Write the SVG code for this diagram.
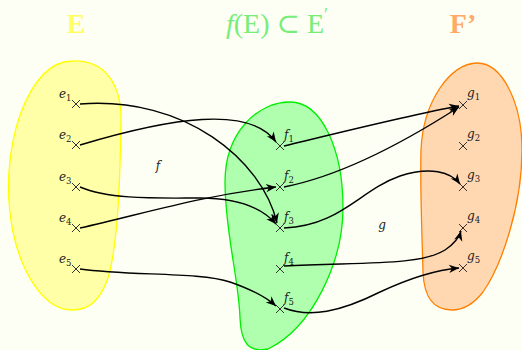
<svg xmlns="http://www.w3.org/2000/svg" width="522" height="350" viewBox="0 0 522 350">
<defs>
<marker id="arr" viewBox="-11 -5 12 10" markerWidth="12" markerHeight="10" refX="0" refY="0" orient="auto" markerUnits="userSpaceOnUse">
<path d="M0,0 L-10,-4.2 L-7,0 L-10,4.2 Z" fill="#000"/>
</marker>
<path id="x" d="M-4,-4 L4,4 M-4,4 L4,-4"/>
</defs>
<style>
.cross{stroke:#333;stroke-width:1;fill:none}
.lbl{font-family:"DejaVu Serif","Liberation Serif",serif;font-style:italic;font-size:12px;fill:#222}
.sub{font-family:"DejaVu Serif","Liberation Serif",serif;font-style:normal;font-size:8.5px;fill:#222}
.con{fill:none;stroke:#000;stroke-width:1.4;marker-end:url(#arr)}
.title{font-family:"Liberation Serif","DejaVu Serif",serif;font-size:28px;text-anchor:middle}
</style>
<rect width="522" height="350" fill="#FEFFF4"/>

<g id="setE">
<path d="M73,61 C103,60 122,82 121,122 C120,180 118,245 108,278 C100,300 90,310 72,310 C45,310 22,275 13,232 C5,192 8,150 20,115 C33,80 50,61 73,61 Z" fill="#FFFFA8" stroke="#FFFF00" stroke-width="1.3"/>
<text class="title" x="76" y="33" fill="#FFFF66" font-weight="bold">E</text>
</g>
<g id="setF">
<path d="M290,102 C322,102 343,150 343,208 C343,262 312,328 268,349 C248,353 241,342 240,318 C239,280 225,232 225,182 C225,132 258,102 290,102 Z" fill="#AFFFAF" stroke="#00EE00" stroke-width="1.3"/>
<text class="title" x="277" y="33" fill="#77EE77"><tspan font-style="italic">f</tspan>(E) ⊂ E<tspan font-size="18" dy="-12">′</tspan></text>
</g>
<g id="setG">
<path d="M477,63 C502,63 522,102 522,150 C522,205 502,265 483,292 C472,306 462,310 452,310 C432,310 424,296 423,272 C422,232 420,190 421,150 C423,102 450,63 477,63 Z" fill="#FFD8B2" stroke="#FF8000" stroke-width="1.3"/>
<text class="title" x="463" y="33" fill="#FFAA66" font-weight="bold">F’</text>
</g>

<g id="e1"><use href="#x" class="cross" x="76" y="104"/><text class="lbl" x="59" y="98">e<tspan class="sub" dy="3">1</tspan></text></g>
<g id="e2"><use href="#x" class="cross" x="76" y="145"/><text class="lbl" x="59" y="139">e<tspan class="sub" dy="3">2</tspan></text></g>
<g id="e3"><use href="#x" class="cross" x="76" y="187"/><text class="lbl" x="59" y="181">e<tspan class="sub" dy="3">3</tspan></text></g>
<g id="e4"><use href="#x" class="cross" x="76" y="228"/><text class="lbl" x="59" y="222">e<tspan class="sub" dy="3">4</tspan></text></g>
<g id="e5"><use href="#x" class="cross" x="76" y="269"/><text class="lbl" x="59" y="263">e<tspan class="sub" dy="3">5</tspan></text></g>

<g id="f1"><use href="#x" class="cross" x="280" y="146"/><text class="lbl" x="284" y="139">f<tspan class="sub" dy="3">1</tspan></text></g>
<g id="f2"><use href="#x" class="cross" x="280" y="187"/><text class="lbl" x="284" y="180">f<tspan class="sub" dy="3">2</tspan></text></g>
<g id="f3"><use href="#x" class="cross" x="280" y="228"/><text class="lbl" x="284" y="221">f<tspan class="sub" dy="3">3</tspan></text></g>
<g id="f4"><use href="#x" class="cross" x="280" y="269"/><text class="lbl" x="284" y="262">f<tspan class="sub" dy="3">4</tspan></text></g>
<g id="f5"><use href="#x" class="cross" x="280" y="309"/><text class="lbl" x="284" y="302">f<tspan class="sub" dy="3">5</tspan></text></g>

<g id="g1"><use href="#x" class="cross" x="463" y="105"/><text class="lbl" x="467" y="97">g<tspan class="sub" dy="3">1</tspan></text></g>
<g id="g2"><use href="#x" class="cross" x="463" y="146"/><text class="lbl" x="467" y="138">g<tspan class="sub" dy="3">2</tspan></text></g>
<g id="g3"><use href="#x" class="cross" x="463" y="187"/><text class="lbl" x="467" y="179">g<tspan class="sub" dy="3">3</tspan></text></g>
<g id="g4"><use href="#x" class="cross" x="463" y="228"/><text class="lbl" x="467" y="220">g<tspan class="sub" dy="3">4</tspan></text></g>
<g id="g5"><use href="#x" class="cross" x="463" y="268"/><text class="lbl" x="467" y="260">g<tspan class="sub" dy="3">5</tspan></text></g>

<g id="connectors">
<path class="con" d="M80,104 C185,96 262,160 277,223"/>
<path class="con" d="M80,145 C170,118 250,105 276,142"/>
<path class="con" d="M80,187 C110,200 160,198 200,198 C240,198 263,209 276,224"/>
<path class="con" d="M80,228 C150,212 200,196 276,187"/>
<path class="con" d="M80,269 C130,276 200,272 230,282 C253,290 266,297 276,306"/>
<path class="con" d="M284,146 C350,130 410,115 459,106"/>
<path class="con" d="M284,187 C340,176 400,145 459,107"/>
<path class="con" d="M284,228 C340,226 360,190 400,176 C430,166 451,172 460,184"/>
<path class="con" d="M284,266 C360,262 420,266 445,250 C454,244 459,238 461,231"/>
<path class="con" d="M284,308 C310,318 340,312 380,292 C410,278 435,270 459,268"/>
<text class="lbl" x="158" y="170" text-anchor="middle" font-size="14">f</text>
<text class="lbl" x="382" y="229" text-anchor="middle" font-size="14">g</text>
</g>
</svg>
